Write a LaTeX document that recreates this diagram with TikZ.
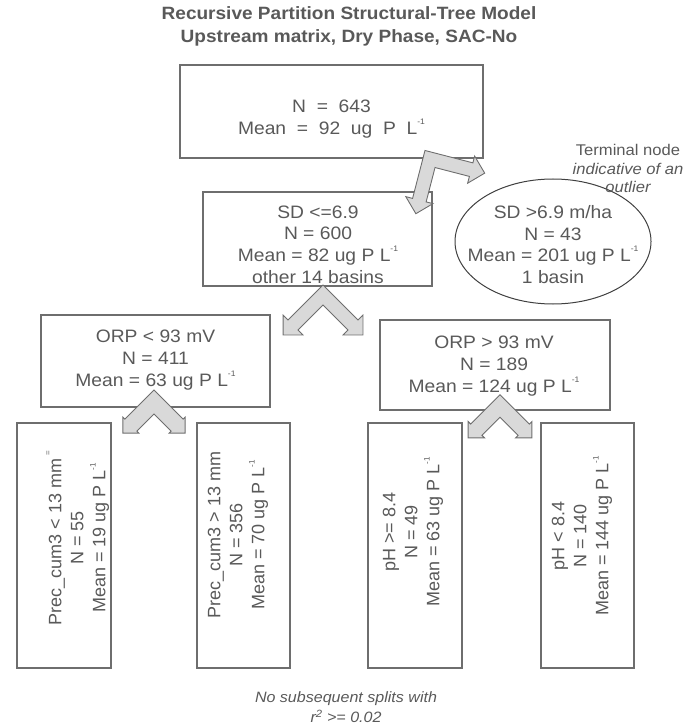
\documentclass[tikz,border=0pt]{standalone}
\usepackage{fontspec}
\setmainfont[FakeStretch=1.07]{Liberation Sans}
\newfontfamily\plainsans{Liberation Sans}
\usetikzlibrary{shapes.geometric}
\definecolor{txtc}{HTML}{595959}
\definecolor{boxc}{HTML}{6E6E6E}
\definecolor{ellc}{HTML}{404040}
\definecolor{chevfill}{HTML}{D9D9D9}
\newcommand\perL{L\raisebox{0.55em}{\fontsize{8}{8}\selectfont -1}}
\newcommand\mychev[5]{%
  \begin{scope}[shift={(#1)}, rotate=#2]
    \filldraw[chev] (#3pt,#3pt) -- ({#5pt-#4pt},#3pt) -- ({#5pt-#4pt},#4pt) -- (#5pt,0pt)
      -- ({#5pt-#4pt},-#4pt) -- ({#5pt-#4pt},-#3pt) -- (-#3pt,-#3pt) -- (-#3pt,{#5pt-#4pt})
      -- (-#4pt,{#5pt-#4pt}) -- (0pt,#5pt) -- (#4pt,{#5pt-#4pt}) -- (#3pt,{#5pt-#4pt}) -- cycle;
  \end{scope}}
\begin{document}
\begin{tikzpicture}[x=1pt,y=-1pt,
  box/.style={draw=boxc, line width=1.1pt, inner sep=0pt},
  ell/.style={ellipse, draw=ellc, line width=1pt, inner sep=0pt},
  txt/.style={text=txtc, align=center, inner sep=0pt, font=\fontsize{18}{21.7}\selectfont},
  rtxt/.style={text=txtc, align=center, inner sep=0pt, rotate=90, font=\plainsans\fontsize{18}{22}\selectfont},
  chev/.style={fill=chevfill, draw=boxc, line width=0.9pt, line join=miter}]
\useasboundingbox (0,0) rectangle (699,727);

% title
\node[txt, font=\bfseries\fontsize{17.8}{23}\selectfont] (title) at (349,26.5)
  {Recursive Partition Structural-Tree Model\\Upstream matrix, Dry Phase, SAC-No};

% boxes
\node[box, minimum width=303pt, minimum height=93pt] (root) at (331.5,111.5) {};
\node[box, minimum width=229pt, minimum height=94pt] (sd) at (317.5,239) {};
\node[ell, minimum width=196pt, minimum height=125pt] (term) at (553,241.5) {};
\node[box, minimum width=229pt, minimum height=92pt] (orpl) at (155.5,361) {};
\node[box, minimum width=230pt, minimum height=90pt] (orpg) at (495,365) {};
\node[box, minimum width=94pt, minimum height=245pt] (l1) at (64,545.5) {};
\node[box, minimum width=93pt, minimum height=245pt] (l2) at (243.5,545.5) {};
\node[box, minimum width=94pt, minimum height=245pt] (l3) at (415,545.5) {};
\node[box, minimum width=93pt, minimum height=245pt] (l4) at (587.5,545.5) {};

% texts
\node[txt] (rootT) at (331.5,119) {N~~=~~643\\Mean~~=~~92~~ug~~P~~\perL};
\node[txt] (sdT) at (318,244.5) {SD <=6.9\\N = 600\\Mean = 82 ug P \perL\\other 14 basins};
\node[txt] (termT) at (553,244.5) {SD >6.9 m/ha\\N = 43\\Mean = 201 ug P \perL\\1 basin};
\node[txt, font=\fontsize{15.5}{18.5}\selectfont] (termL) at (628,168.5)
  {Terminal node\\\itshape indicative of an\\\itshape outlier};
\node[txt] (orplT) at (155.5,360) {ORP < 93 mV\\N = 411\\Mean = 63 ug P \perL};
\node[txt] (orpgT) at (494,366) {ORP > 93 mV\\N = 189\\Mean = 124 ug P \perL};
\node[rtxt] (l1T) at (78,538) {Prec\_cum3 < 13 mm\,\raisebox{0.6em}{\fontsize{8}{8}\selectfont =}\\N = 55\\Mean = 19 ug P \perL};
\node[rtxt] (l2T) at (238,535) {Prec\_cum3 > 13 mm\\N = 356\\Mean = 70 ug P \perL};
\node[rtxt] (l3T) at (413,532) {pH >= 8.4\\N = 49\\Mean = 63 ug P \perL};
\node[rtxt] (l4T) at (582,536) {pH < 8.4\\N = 140\\Mean = 144 ug P \perL};

\node[txt, font=\itshape\fontsize{15}{20}\selectfont] (note) at (346,707)
  {No subsequent splits with\\r\textsuperscript{2} >= 0.02};

% split arrows
\coordinate (c1) at (430,159);
\coordinate (c2) at (323,295);
\coordinate (c3) at (154,402);
\coordinate (c4) at (500,406);
\mychev{c1}{-104.5}{7}{14}{56.5}
\mychev{c2}{-135}{7}{14}{56.5}
\mychev{c3}{-135}{8.5}{11.3}{44}
\mychev{c4}{-135}{8}{11.5}{45}
\end{tikzpicture}
\end{document}
